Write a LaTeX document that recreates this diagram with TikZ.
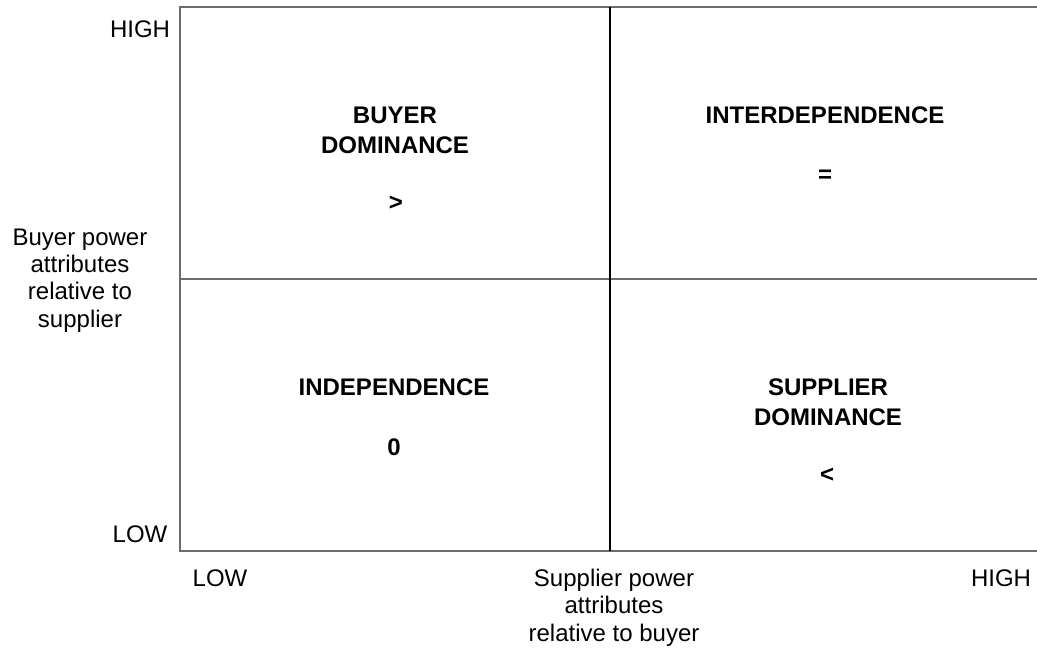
\documentclass[tikz,border=0pt]{standalone}
\usepackage{fontspec}
\setmainfont{Liberation Sans}
\begin{document}
\begin{tikzpicture}[x=0.75pt,y=-0.75pt,
  frame/.style={draw=black!58,line width=1.6pt},
  midline/.style={draw=black,line width=1.2pt},
  axislabel/.style={inner sep=0pt,anchor=base,align=center,
    font=\fontsize{18}{20.4}\selectfont},
  quadlabel/.style={inner sep=0pt,anchor=base,align=center,
    font=\fontsize{18}{22.2}\selectfont\bfseries}]
  \useasboundingbox (0,0) rectangle (1037,651);

  % grid corners and centre
  \coordinate (tl) at (180,7);
  \coordinate (bl) at (180,551);
  \coordinate (tr) at (1040,7);
  \coordinate (br) at (1040,551);
  \coordinate (ml) at (180,279);
  \coordinate (mr) at (1040,279);
  \coordinate (mt) at (610,7);
  \coordinate (mb) at (610,551);

  % outer frame and quadrant dividers
  \draw[frame] (tr) -- (tl) -- (bl) -- (br);
  \draw[frame] (ml) -- (mr);
  \draw[midline] (mt) -- (mb);

  % axis labels (multi-line nodes sit on the baseline of their last line)
  \node[axislabel] (yhigh) at (140,37) {HIGH};
  \node[axislabel] (ylow) at (140,542) {LOW};
  \node[axislabel] (ytitle) at (80,327) {Buyer power\\attributes\\relative to\\supplier};
  \node[axislabel] (xlow) at (220,586) {LOW};
  \node[axislabel] (xhigh) at (1001,586) {HIGH};
  \node[axislabel] (xtitle) at (614,641) {Supplier power\\attributes\\relative to buyer};

  % quadrant labels
  \node[quadlabel] (buyer) at (395,153) {BUYER\\DOMINANCE};
  \node[quadlabel] (buyersym) at (396,210) {>};
  \node[quadlabel] (inter) at (825,123) {INTERDEPENDENCE};
  \node[quadlabel] (intersym) at (825,182) {=};
  \node[quadlabel] (indep) at (394,395) {INDEPENDENCE};
  \node[quadlabel] (indepsym) at (394,455) {0};
  \node[quadlabel] (supplier) at (828,425) {SUPPLIER\\DOMINANCE};
  \node[quadlabel] (suppliersym) at (827,482) {<};
\end{tikzpicture}
\end{document}
